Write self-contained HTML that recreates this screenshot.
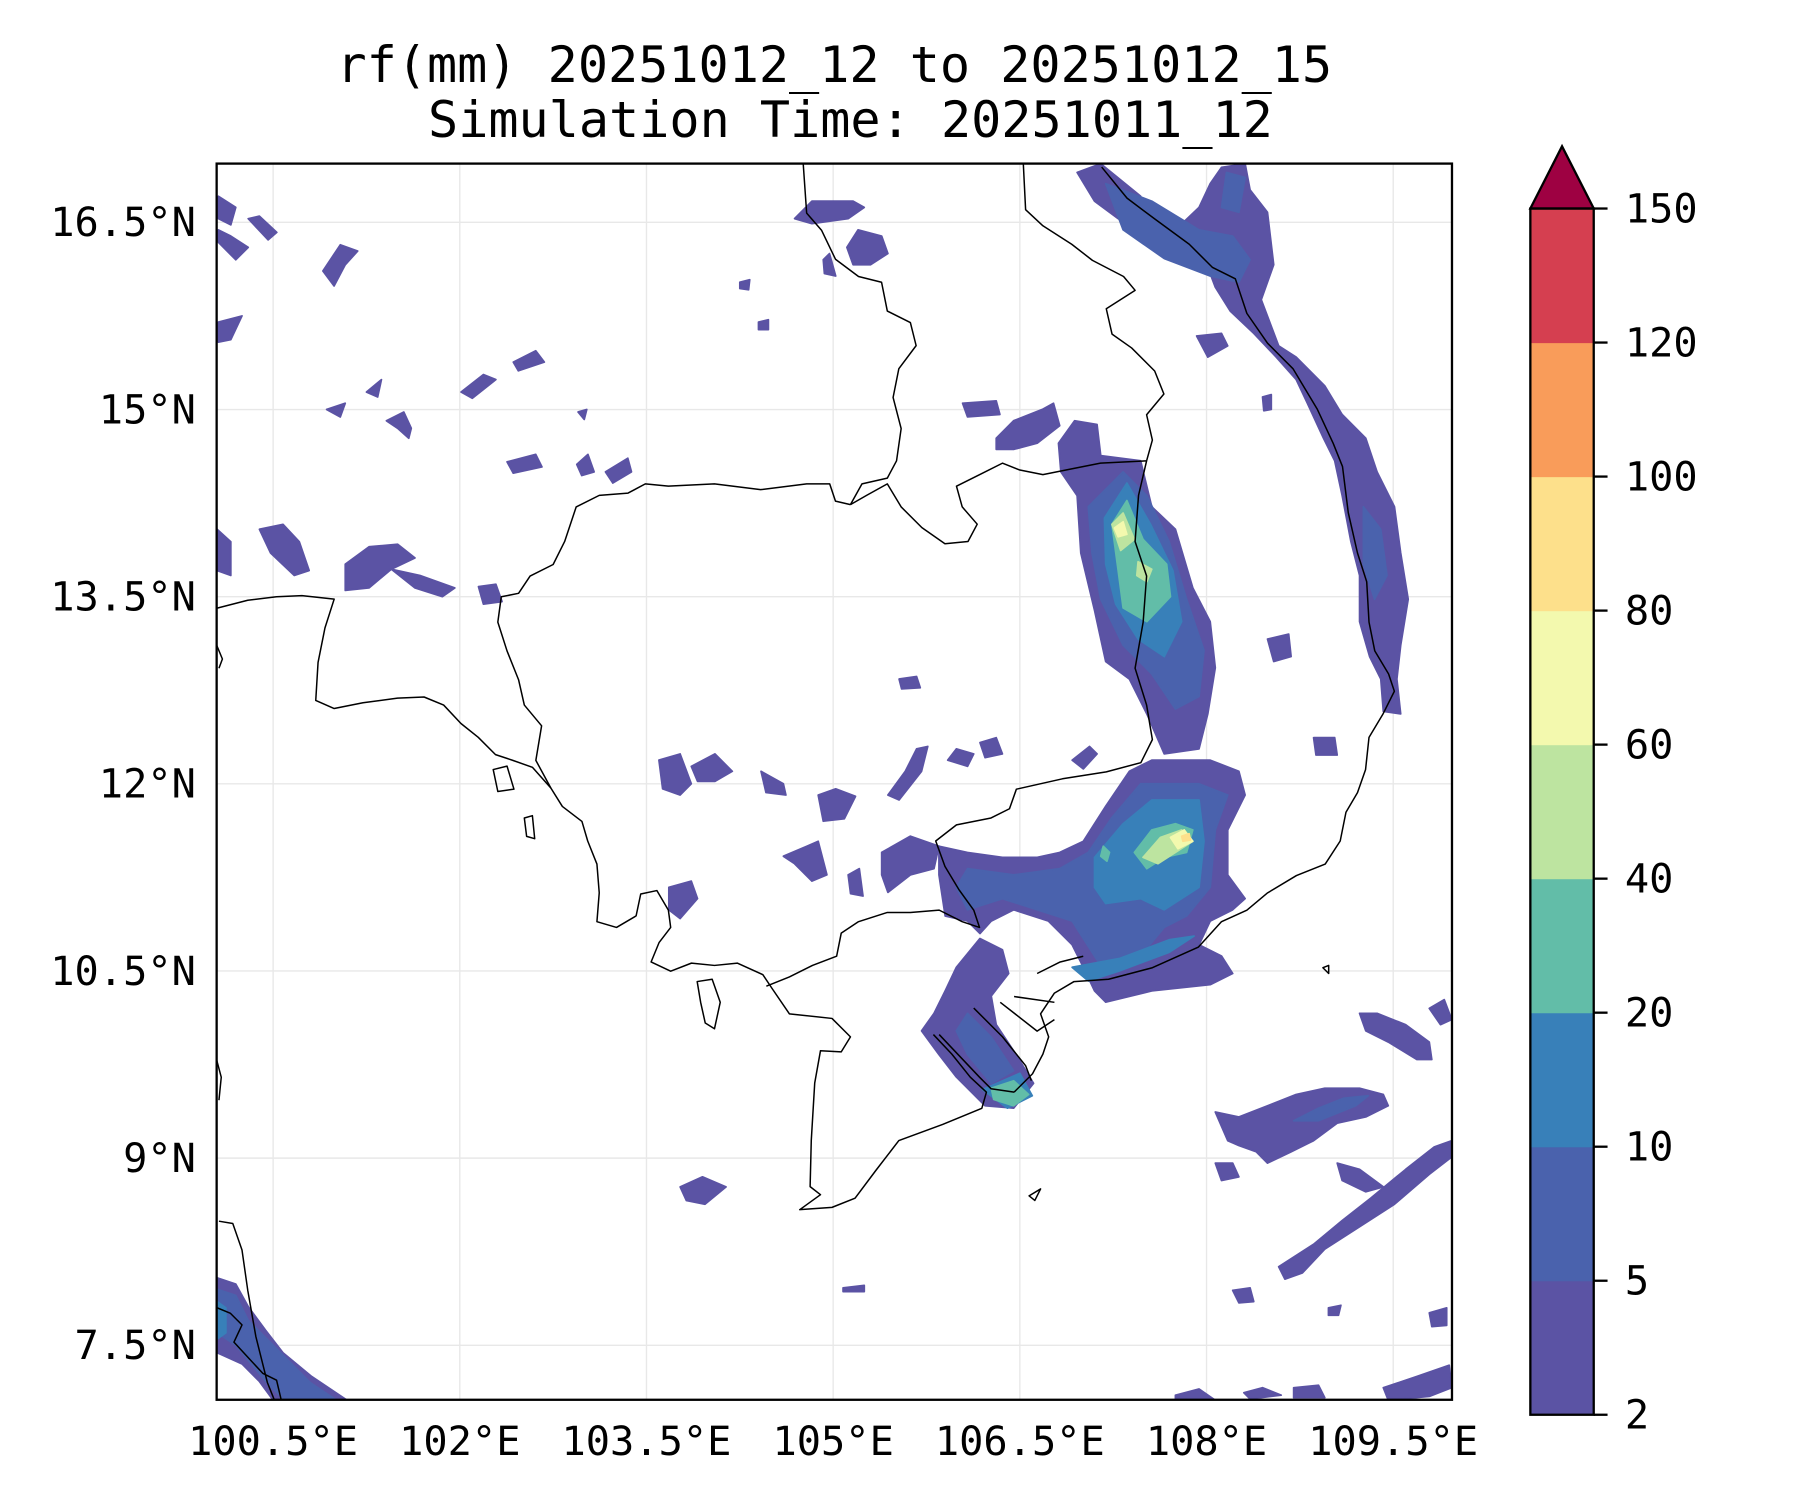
<!DOCTYPE html>
<html><head><meta charset="utf-8"><style>
html,body{margin:0;padding:0;background:#fff;}
svg{display:block;}
text{font-family:"DejaVu Sans Mono","Liberation Mono",monospace;fill:#000;}
</style></head><body>
<svg id="fig" xmlns="http://www.w3.org/2000/svg" width="1800" height="1500" viewBox="0 0 1562 1302" preserveAspectRatio="none">
<rect x="0" y="0" width="1562" height="1302" fill="#fff"/>
<text x="724" y="71" font-size="43.5" text-anchor="middle">rf(mm) 20251012_12 to 20251012_15</text>
<text x="738" y="119" font-size="43.5" text-anchor="middle">Simulation Time: 20251011_12</text>
<defs><clipPath id="mapclip"><rect x="188" y="142" width="1072" height="1073"/></clipPath></defs>
<g id="grid"></g>
<g id="rain" clip-path="url(#mapclip)"></g>
<g clip-path="url(#mapclip)" fill="none" stroke="#000" stroke-width="1.3" stroke-linejoin="round">
<path d="M188,528 L215,521 L240,518 L262,517 L290,520 L282,545 L276,575 L274,608 L290,615 L315,610 L345,606 L368,605 L385,612 L400,628 L415,640 L430,655 L445,660 L462,666 L478,684 L488,700 L505,713 L510,730 L518,750 L520,775 L518,800 L535,805 L552,795 L556,776 L570,773 L580,790 L582,805 L572,818 L565,835 L582,843 L600,836 L620,838 L640,836 L662,846 L670,858 L685,880 L722,884 L738,900 L730,913 L712,912 L707,940 L704,990 L703,1030 L712,1037 L694,1050 L722,1048 L742,1040 L760,1016 L780,990 L818,976 L852,962 L856,948 L842,935 L826,915 L810,898"/>
<path d="M880,948 L896,932 L905,915 L910,900 L903,880 L915,862 L932,852 L962,850 L1000,840 L1040,822 L1060,800 L1082,790 L1100,775 L1125,760 L1150,750 L1163,730 L1168,705 L1178,688 L1185,668 L1188,640 L1200,620 L1210,600 L1205,585 L1193,565 L1188,540 L1186,505 L1178,480 L1170,445 L1165,405 L1157,385 L1143,355 L1122,320 L1100,298 L1082,272 L1072,242 L1052,232 L1032,212 L1002,190 L978,172 L956,145"/>
<path d="M845,875 L870,900 L890,925 L895,938 M815,898 L850,935 L860,945 L880,948 M868,870 L900,895 L915,885 M880,865 L915,870 M900,845 L920,835 L940,830"/>
<path d="M697,142 L700,185 L713,200 L725,225 L745,240 L765,245 L770,270 L790,280 L795,300 L780,320 L775,345 L782,372 L778,400 L770,415 L748,420 L738,438"/>
<path d="M738,438 L725,435 L720,420 L700,420 L660,425 L620,420 L580,422 L560,420 L545,428 L520,430 L500,440 L490,470 L480,490 L460,500 L450,515 L435,518 L432,540 L440,565 L450,590 L455,612 L470,630 L465,660 L478,684"/>
<path d="M738,438 L752,430 L770,420 L782,440 L800,458 L820,472 L840,470 L848,455 L835,440 L830,422 L850,412 L870,402 L885,408 L905,412 L925,408 L955,402 L995,400"/>
<path d="M995,400 L1000,382 L995,360 L1010,342 L1002,322 L982,302 L965,290 L960,268 L985,252 L975,240 L948,226 L930,212 L905,196 L890,182 L888,142"/>
<path d="M995,400 L988,430 L985,470 L995,500 L992,540 L985,580 L995,612 L1000,642 L990,662 L960,670 L922,676 L882,685 L876,702 L860,710 L830,716 L812,730 L820,752 L832,772 L845,790 L850,805 L835,800 L815,790 L790,792 L770,792 L745,800 L730,810 L726,830 L705,838 L685,848 L665,856"/>
<path d="M190,1060 L202,1062 L210,1085 L215,1120 L222,1160 L232,1200 L238,1215 M188,1135 L200,1140 L210,1150 L203,1165 L215,1178 L228,1192 L240,1198 L244,1215 M188,920 L192,935 L190,955 M188,560 L193,572 L190,580"/>
<path d="M605,852 L618,850 L625,870 L620,893 L612,888 L608,870 Z M428,668 L440,665 L446,685 L432,687 Z M893,1038 L903,1032 L898,1042 Z M1148,840 L1153,838 L1153,845 Z M455,710 L462,708 L464,728 L457,726 Z"/>
</g>
<rect x="188" y="142" width="1072" height="1073" fill="none" stroke="#000" stroke-width="2"/>
<g id="ticks"></g>
<g id="cbar"></g>
</svg>
<script>
// ---- axis data ----
const lonTicks = [100.5, 102, 103.5, 105, 106.5, 108, 109.5];
const lonTickLabels = ['100.5°E','102°E','103.5°E','105°E','106.5°E','108°E','109.5°E'];
const latTicks = [16.5, 15, 13.5, 12, 10.5, 9, 7.5];
const latTickLabels = ['16.5°N','15°N','13.5°N','12°N','10.5°N','9°N','7.5°N'];
// ---- colorbar data ----
const levelBounds = [2, 5, 10, 20, 40, 60, 80, 100, 120, 150];
const levelColors = ['#5b53a4','#4a62ad','#3880b9','#62bda8','#bde4a0','#f3f9ae','#fde08b','#f99c5a','#d53f50'];
const overColor = '#9e0142';
// ---- rainfall contour blobs: level index (0 = 2-5mm ...) and [lon,lat] vertices ----
const blobLevels = [
0,0,0,0,0,0,0,0,0,0,0,0,0,0,0,0,0,0,0,0,0,0,0,0,0,0,0,0,0,0,0,0,0,0,0,0,0,0,0,0,0,0,0,0,0,0,0,0,0,0,0,0,0,0,0,
0,0,0,0,0,0,0,0,
1,1,1,1,1,1,1,1,
2,2,2,2,2,2,
3,3,3,3,3,
4,4,4,
5,5,
6
];
const blobPoints = [
// L0
[[106.96,14.31],[106.83,14.5],[106.81,14.73],[106.94,14.91],[107.12,14.88],[107.15,14.63],[107.47,14.59],[107.56,14.22],[107.75,14.04],[107.89,13.57],[108.03,13.3],[108.07,12.93],[108.01,12.56],[107.94,12.28],[107.66,12.24],[107.52,12.56],[107.38,12.84],[107.19,12.98],[107.1,13.39],[106.99,13.85]],
[[107.01,11.54],[107.19,11.82],[107.38,12.1],[107.56,12.19],[108.03,12.19],[108.26,12.1],[108.31,11.91],[108.17,11.63],[108.17,11.27],[108.31,11.08],[108.21,10.99],[108.03,10.9],[107.94,10.71],[108.12,10.62],[108.21,10.48],[108.03,10.39],[107.56,10.34],[107.19,10.25],[107.1,10.34],[107.01,10.53],[106.92,10.71],[106.73,10.9],[106.45,10.99],[106.27,10.9],[106.18,10.8],[106.08,10.9],[105.9,10.94],[105.85,11.27],[105.85,11.5],[106.08,11.45],[106.36,11.41],[106.64,11.41],[106.82,11.45]],
[[106.18,10.76],[105.99,10.53],[105.9,10.34],[105.81,10.16],[105.71,10.02],[105.85,9.83],[105.99,9.65],[106.22,9.42],[106.45,9.4],[106.61,9.6],[106.47,9.83],[106.31,10.07],[106.27,10.3],[106.41,10.48],[106.36,10.67]],
[[106.96,16.9],[107.15,16.97],[107.47,16.71],[107.56,16.53],[107.75,16.44],[107.94,16.62],[108.03,16.81],[108.12,16.94],[108.31,16.97],[108.35,16.76],[108.49,16.58],[108.54,16.16],[108.44,15.88],[108.58,15.51],[108.72,15.42],[108.95,15.19],[109.09,14.96],[109.28,14.77],[109.37,14.5],[109.51,14.22],[109.56,13.85],[109.62,13.48],[109.56,13.11],[109.53,12.84],[109.56,12.56],[109.42,12.58],[109.4,12.84],[109.31,13.02],[109.23,13.3],[109.23,13.67],[109.16,13.94],[109.09,14.31],[109.03,14.59],[108.94,14.77],[108.81,15.05],[108.72,15.24],[108.56,15.42],[108.38,15.61],[108.19,15.79],[108.07,15.98],[108.01,16.14],[107.89,16.23],[107.66,16.32],[107.47,16.42],[107.29,16.53],[107.1,16.67]],
[[106.31,14.77],[106.45,14.91],[106.68,15.0],[106.77,15.05],[106.82,14.87],[106.64,14.73],[106.45,14.68],[106.31,14.68]],
[[107.92,15.59],[108.12,15.61],[108.17,15.51],[108.01,15.42]],
[[108.86,12.37],[109.03,12.37],[109.05,12.23],[108.88,12.23]],
[[103.6,12.19],[103.77,12.24],[103.86,12.0],[103.77,11.91],[103.63,11.96]],
[[103.86,12.14],[104.05,12.24],[104.19,12.1],[104.05,12.02],[103.91,12.02]],
[[104.42,12.1],[104.6,12.0],[104.62,11.91],[104.46,11.93]],
[[104.88,11.91],[105.02,11.96],[105.18,11.9],[105.09,11.72],[104.92,11.7]],
[[104.6,11.42],[104.79,11.5],[104.88,11.54],[104.95,11.27],[104.83,11.22],[104.69,11.36]],
[[105.12,11.27],[105.21,11.32],[105.24,11.1],[105.14,11.12]],
[[105.39,11.45],[105.62,11.58],[105.85,11.5],[105.81,11.32],[105.62,11.27],[105.44,11.13],[105.39,11.27]],
[[105.44,11.91],[105.58,12.1],[105.67,12.28],[105.76,12.3],[105.71,12.1],[105.53,11.87]],
[[105.92,12.19],[105.99,12.28],[106.13,12.24],[106.08,12.14]],
[[106.18,12.33],[106.31,12.37],[106.36,12.24],[106.22,12.21]],
[[106.92,12.19],[107.06,12.3],[107.12,12.24],[107.01,12.12]],
[[103.68,11.17],[103.86,11.22],[103.91,11.08],[103.77,10.92],[103.68,10.99]],
[[103.77,8.77],[103.95,8.85],[104.14,8.77],[103.97,8.63],[103.82,8.66]],
[[105.53,12.84],[105.67,12.86],[105.7,12.77],[105.55,12.76]],
[[106.04,15.05],[106.31,15.07],[106.34,14.96],[106.08,14.94]],
[[108.49,13.16],[108.66,13.2],[108.68,13.02],[108.54,12.98]],
[[100.39,14.04],[100.58,14.08],[100.71,13.94],[100.79,13.71],[100.67,13.67],[100.48,13.85]],
[[101.08,13.76],[101.27,13.9],[101.5,13.92],[101.64,13.81],[101.45,13.72],[101.27,13.57],[101.08,13.55]],
[[101.45,13.72],[101.68,13.67],[101.96,13.57],[101.86,13.5],[101.64,13.57]],
[[102.15,13.58],[102.29,13.6],[102.34,13.46],[102.19,13.44]],
[[100.05,14.04],[100.16,13.94],[100.16,13.67],[100.05,13.71]],
[[100.06,16.71],[100.2,16.62],[100.16,16.48],[100.06,16.53]],
[[100.06,16.44],[100.16,16.39],[100.3,16.3],[100.2,16.2],[100.06,16.34]],
[[100.3,16.53],[100.39,16.55],[100.53,16.42],[100.46,16.36]],
[[100.9,16.11],[101.04,16.32],[101.18,16.27],[101.08,16.16],[100.99,15.99]],
[[100.06,15.7],[100.25,15.75],[100.16,15.56],[100.06,15.54]],
[[102.01,15.14],[102.19,15.28],[102.29,15.24],[102.1,15.09]],
[[102.43,15.38],[102.61,15.47],[102.68,15.38],[102.47,15.31]],
[[101.41,14.91],[101.55,14.98],[101.61,14.85],[101.59,14.77],[101.5,14.85]],
[[100.93,15.0],[101.08,15.05],[101.04,14.94]],
[[101.25,15.14],[101.37,15.24],[101.34,15.1]],
[[102.38,14.58],[102.61,14.64],[102.66,14.54],[102.43,14.49]],
[[102.94,14.56],[103.03,14.64],[103.08,14.5],[102.98,14.47]],
[[103.17,14.5],[103.35,14.61],[103.38,14.5],[103.23,14.41]],
[[104.69,16.53],[104.83,16.67],[105.16,16.67],[105.25,16.62],[105.12,16.53],[104.83,16.49]],
[[105.11,16.3],[105.2,16.44],[105.39,16.39],[105.44,16.25],[105.3,16.16],[105.16,16.16]],
[[104.92,16.2],[104.97,16.25],[105.02,16.07],[104.93,16.09]],
[[109.23,10.16],[109.37,10.16],[109.6,10.07],[109.79,9.93],[109.81,9.79],[109.69,9.79],[109.46,9.93],[109.28,10.02]],
[[109.79,10.2],[109.91,10.27],[109.97,10.11],[109.88,10.07]],
[[108.07,9.37],[108.26,9.33],[108.49,9.42],[108.72,9.51],[108.95,9.56],[109.23,9.56],[109.42,9.51],[109.46,9.42],[109.28,9.33],[109.05,9.28],[108.86,9.14],[108.68,9.05],[108.49,8.96],[108.4,9.05],[108.26,9.1],[108.17,9.14]],
[[108.07,8.96],[108.21,8.96],[108.26,8.85],[108.12,8.82]],
[[108.58,8.13],[108.86,8.31],[109.09,8.5],[109.32,8.68],[109.6,8.91],[109.83,9.09],[109.97,9.14],[109.97,9.01],[109.79,8.87],[109.51,8.63],[109.23,8.45],[108.95,8.27],[108.77,8.08],[108.63,8.03]],
[[109.05,8.96],[109.23,8.91],[109.42,8.77],[109.28,8.73],[109.09,8.82]],
[[108.21,7.94],[108.35,7.96],[108.38,7.85],[108.26,7.84]],
[[109.79,7.76],[109.93,7.8],[109.93,7.66],[109.81,7.65]],
[[109.42,7.16],[109.69,7.25],[109.95,7.34],[109.97,7.16],[109.79,7.09],[109.46,7.06]],
[[107.75,7.1],[107.94,7.15],[108.07,7.06],[107.75,7.06]],
[[100.05,8.04],[100.2,7.99],[100.3,7.81],[100.44,7.62],[100.58,7.44],[100.81,7.25],[101.08,7.07],[101.27,6.95],[101.45,6.91],[101.45,6.84],[100.62,6.84],[100.53,7.02],[100.39,7.21],[100.25,7.35],[100.05,7.44]],
[[108.45,15.1],[108.52,15.12],[108.52,15.0],[108.46,14.99]],
[[104.4,15.7],[104.48,15.72],[104.48,15.64],[104.4,15.64]],
[[104.25,16.02],[104.33,16.04],[104.32,15.96],[104.25,15.97]],
[[102.95,14.98],[103.02,15.0],[103.0,14.92]],
[[108.3,7.12],[108.45,7.16],[108.6,7.1],[108.35,7.07]],
[[108.7,7.16],[108.9,7.18],[108.95,7.08],[108.7,7.08]],
[[105.08,7.96],[105.25,7.98],[105.25,7.93],[105.08,7.93]],
[[108.98,7.8],[109.08,7.82],[109.06,7.74],[108.98,7.74]],
// L1
[[107.05,14.22],[107.33,14.5],[107.52,14.31],[107.7,13.94],[107.84,13.48],[107.98,13.07],[107.94,12.7],[107.75,12.6],[107.56,12.88],[107.33,13.11],[107.15,13.48],[107.08,13.85]],
[[107.05,11.45],[107.24,11.73],[107.47,12.0],[107.94,12.0],[108.17,11.91],[108.07,11.63],[108.03,11.17],[107.84,10.94],[107.66,10.85],[107.47,10.62],[107.19,10.48],[107.1,10.62],[106.92,10.9],[106.64,10.99],[106.36,11.08],[106.08,10.99],[105.99,11.17],[106.08,11.32],[106.45,11.27],[106.82,11.32]],
[[106.08,10.16],[106.27,9.97],[106.45,9.7],[106.27,9.6],[106.08,9.83],[105.99,10.02]],
[[107.19,16.81],[107.56,16.67],[107.94,16.44],[108.21,16.39],[108.35,16.2],[108.26,16.02],[108.03,16.07],[107.66,16.21],[107.33,16.44]],
[[108.16,16.9],[108.31,16.86],[108.26,16.58],[108.12,16.62]],
[[109.26,14.22],[109.4,14.04],[109.45,13.67],[109.35,13.48],[109.26,13.76]],
[[100.05,7.95],[100.2,7.9],[100.3,7.7],[100.5,7.5],[100.8,7.2],[101.1,7.0],[100.7,6.95],[100.45,7.2],[100.2,7.5],[100.05,7.6]],
[[109.3,9.5],[109.1,9.48],[108.9,9.4],[108.7,9.3],[108.9,9.3],[109.2,9.42]],
// L2
[[107.18,14.13],[107.36,14.41],[107.55,14.08],[107.73,13.71],[107.8,13.3],[107.66,13.02],[107.45,13.16],[107.27,13.44],[107.19,13.76]],
[[107.1,11.41],[107.33,11.68],[107.56,11.87],[107.94,11.87],[107.98,11.54],[107.94,11.17],[107.66,10.99],[107.47,11.08],[107.19,11.04],[107.1,11.17]],
[[106.92,10.53],[107.3,10.6],[107.7,10.75],[107.9,10.78],[107.7,10.65],[107.3,10.5],[107.05,10.42]],
[[100.05,7.85],[100.12,7.8],[100.12,7.6],[100.05,7.55]],
[[101.0,7.05],[101.2,7.0],[101.0,6.95]],
[[106.2,9.55],[106.5,9.68],[106.6,9.5],[106.4,9.4]],
// L3
[[107.24,14.08],[107.36,14.27],[107.49,13.96],[107.68,13.76],[107.71,13.5],[107.52,13.3],[107.33,13.41],[107.29,13.71]],
[[107.42,11.45],[107.56,11.63],[107.75,11.68],[107.89,11.63],[107.84,11.45],[107.66,11.41],[107.52,11.32]],
[[107.17,11.5],[107.22,11.45],[107.2,11.38],[107.15,11.42]],
[[106.27,9.56],[106.45,9.62],[106.57,9.51],[106.45,9.42],[106.29,9.47]],
[[106.3,9.52],[106.45,9.58],[106.52,9.5],[106.42,9.45]],
// L4
[[107.24,14.08],[107.33,14.17],[107.42,13.96],[107.31,13.87]],
[[107.45,13.78],[107.56,13.72],[107.52,13.62],[107.44,13.67]],
[[107.49,11.41],[107.63,11.57],[107.8,11.63],[107.89,11.54],[107.75,11.45],[107.61,11.36]],
// L5
[[107.26,14.05],[107.33,14.1],[107.36,14.0],[107.29,13.98]],
[[107.71,11.57],[107.82,11.63],[107.89,11.54],[107.77,11.48]],
// L6
[[107.8,11.58],[107.86,11.6],[107.87,11.55],[107.81,11.54]]
];

// ---- projection / axis functions ----
const mapL = 188, mapR = 1260, mapT = 142, mapB = 1215;
function px(lon){ return 237 + (lon - 100.5) * 108; }
function py(lat){ return 193 + (16.5 - lat) * 108.3; }
const NS = 'http://www.w3.org/2000/svg';
function mk(tag, attrs, parent){ const e = document.createElementNS(NS, tag); for (const k in attrs) e.setAttribute(k, attrs[k]); parent.appendChild(e); return e; }

// gridlines and ticks
const grid = document.getElementById('grid');
const ticks = document.getElementById('ticks');
lonTicks.forEach((lon, i) => {
  const x = px(lon);
  const gl = mk('line', {x1:x, x2:x, y1:mapT, y2:mapB, stroke:'#e8e8e8', 'stroke-width':1.2}, grid);
  
  
  const t = mk('text', {x:x, y:1263, 'font-size':35, 'text-anchor':'middle'}, ticks);
  t.textContent = lonTickLabels[i];
  
  
});
latTicks.forEach((lat, i) => {
  const y = py(lat);
  const gl = mk('line', {x1:mapL, x2:mapR, y1:y, y2:y, stroke:'#e8e8e8', 'stroke-width':1.2}, grid);
  
  
  const t = mk('text', {x:170, y:y + 12, 'font-size':35, 'text-anchor':'end'}, ticks);
  t.textContent = latTickLabels[i];
  
  
});

// rainfall polygons
const rain = document.getElementById('rain');
blobPoints.forEach((pts, i) => {
  const lvl = blobLevels[i];
  const d = pts.map(p => px(p[0]).toFixed(1) + ',' + py(p[1]).toFixed(1)).join(' ');
  const poly = mk('polygon', {points:d, fill:levelColors[lvl], stroke:levelColors[lvl], 'stroke-width':1.5, 'stroke-linejoin':'round'}, rain);
  
  
});

// colorbar
const cb = document.getElementById('cbar');
const cbL = 1328, cbR = 1383, cbTop = 181, cbBot = 1228, tipY = 127;
const seg = (cbBot - cbTop) / (levelBounds.length - 1);
function cy(i){ return cbBot - i * seg; }
levelColors.forEach((c, i) => {
  const r = mk('rect', {x:cbL, y:cy(i+1), width:cbR-cbL, height:seg+0.5, fill:c}, cb);
  
  
});
const tri = mk('polygon', {points:cbL+','+cbTop+' '+((cbL+cbR)/2)+','+tipY+' '+cbR+','+cbTop, fill:overColor, stroke:'#000', 'stroke-width':2}, cb);


const outline = mk('rect', {x:cbL, y:cbTop, width:cbR-cbL, height:cbBot-cbTop, fill:'none', stroke:'#000', 'stroke-width':2}, cb);


levelBounds.forEach((v, i) => {
  const y = cy(i);
  const tk = mk('line', {x1:cbR, x2:cbR+12, y1:y, y2:y, stroke:'#000', 'stroke-width':2}, cb);
  
  
  const t = mk('text', {x:1410, y:y + 12, 'font-size':35}, cb);
  t.textContent = String(v);
  
  
});
</script>
</body></html>
